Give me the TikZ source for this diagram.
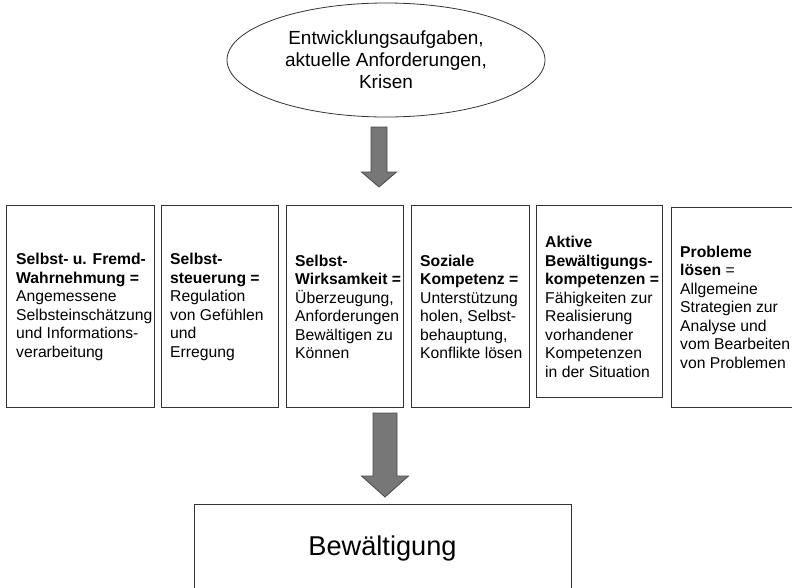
\documentclass[tikz,border=0pt]{standalone}
\usepackage{fontspec}
\setmainfont{Liberation Sans}
\usetikzlibrary{shapes.geometric}
\newcommand\bxfont{\fontsize{15.7}{18.5}\selectfont}
\newcommand\elfont{\fontsize{19}{22}\selectfont}
\newcommand\btfont{\fontsize{27.2}{32}\selectfont}
\definecolor{arrfill}{HTML}{777777}
\definecolor{arrline}{HTML}{4A4A4A}
\definecolor{edge}{HTML}{333333}
\tikzset{
  box/.style={draw=edge, line width=1pt, inner sep=0pt},
  txt/.style={anchor=west, align=left, inner sep=0pt, font=\bxfont},
  bigarrow/.style={fill=arrfill, draw=arrline, line width=0.8pt, line join=miter},
}
\begin{document}
\begin{tikzpicture}[x=1pt,y=-1pt]
\useasboundingbox (0,0) rectangle (792,587);
\clip (0,0) rectangle (792,587);
\fill[white] (0,0) rectangle (792,587);
% top ellipse
\node[draw=edge, line width=0.8pt, ellipse, minimum width=318pt, minimum height=114pt, inner sep=0pt, align=center, font=\elfont] (ell) at (386,60)
  {Entwicklungsaufgaben,\\aktuelle Anforderungen,\\Krisen};
% boxes
\node[box, minimum width=148pt, minimum height=202pt] (b1) at (80,306) {};
\node[box, minimum width=117pt, minimum height=202pt] (b2) at (219.5,306) {};
\node[box, minimum width=117pt, minimum height=202pt] (b3) at (344.5,306) {};
\node[box, minimum width=118pt, minimum height=202pt] (b4) at (470,306) {};
\node[box, minimum width=126pt, minimum height=192pt] (b5) at (599,301) {};
\node[box, minimum width=129pt, minimum height=200pt] (b6) at (735.5,307) {};
% texts
\node[txt] (t1) at (16,307) {\textbf{Selbst- u. Fremd-}\\\textbf{Wahrnehmung =}\\Angemessene\\Selbsteinschätzung\\und Informations-\\verarbeitung};
\node[txt] (t2) at (170,307) {\textbf{Selbst-}\\\textbf{steuerung =}\\Regulation\\von Gefühlen\\und\\Erregung};
\node[txt] (t3) at (295,307) {\textbf{Selbst-}\\\textbf{Wirksamkeit =}\\Überzeugung,\\Anforderungen\\Bewältigen zu\\Können};
\node[txt] (t4) at (420,307) {\textbf{Soziale}\\\textbf{Kompetenz =}\\Unterstützung\\holen, Selbst-\\behauptung,\\Konflikte lösen};
\node[txt] (t5) at (545,307) {\textbf{Aktive}\\\textbf{Bewältigungs-}\\\textbf{kompetenzen =}\\Fähigkeiten zur\\Realisierung\\vorhandener\\Kompetenzen\\in der Situation};
\node[txt] (t6) at (680,307) {\textbf{Probleme}\\\textbf{lösen} =\\Allgemeine\\Strategien zur\\Analyse und\\vom Bearbeiten\\von Problemen};
% bottom box
\node[box, minimum width=377pt, minimum height=110pt, font=\btfont] (bw) at (382.5,559) {};
\node[inner sep=0pt, font=\btfont] (bwt) at (382.5,548) {Bewältigung};
% arrows
\coordinate (a1) at (379,127);
\draw[bigarrow] (a1) ++(-8,0) -- ++(16,0) -- ++(0,45) -- ++(9.5,0) -- ++(-17.5,15) -- ++(-17.5,-15) -- ++(9.5,0) -- cycle;
\coordinate (a2) at (385,413);
\draw[bigarrow] (a2) ++(-12,0) -- ++(24,0) -- ++(0,63) -- ++(11.5,0) -- ++(-23.5,21) -- ++(-23.5,-21) -- ++(11.5,0) -- cycle;
\end{tikzpicture}
\end{document}
